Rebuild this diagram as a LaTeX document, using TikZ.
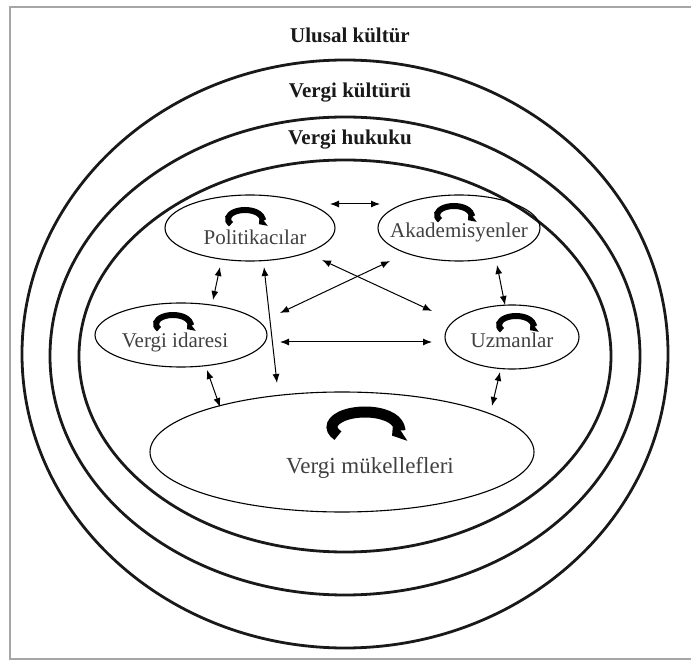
\documentclass[tikz,border=0pt]{standalone}
\usepackage{fontspec}
\setmainfont{Liberation Serif}
\usetikzlibrary{shapes.geometric,arrows.meta}

\begin{document}
\begin{tikzpicture}[x=1pt,y=1pt]
	\tikzset{>={Latex[length=9pt,width=7pt]}}
	\tikzset{ring/.style={line width=2.8pt, black!90},
		actor/.style={draw, ellipse, line width=1.1pt, inner sep=0pt},
		ringtext/.style={anchor=base, font=\fontsize{21}{24}\selectfont\bfseries, text=black!90},
		actortext/.style={anchor=base, font=\fontsize{21}{24}\selectfont, text=black!75},
		turn/.style={line width=6pt, -{Triangle[length=6pt,width=13pt]}},
		link/.style={<->, line width=1pt}}
	\useasboundingbox (0,0) rectangle (691,662);
	\draw[gray!70, line width=1.5pt] (691,655) -- (10,655) -- (10,3) -- (691,3);
	
	% rings
	\draw[ring] (345,308) ellipse [x radius=323, y radius=294];
	\draw[ring] (345,306) ellipse [x radius=295, y radius=239];
	\draw[ring] (345,306) ellipse [x radius=266, y radius=196];
	
	\node[ringtext] (ulusal) at (350,619) {Ulusal kültür};
	\node[ringtext] (kultur) at (350,564) {Vergi kültürü};
	\node[ringtext] (hukuk) at (350,517) {Vergi hukuku};
	
	% actors
	\node[actor, minimum width=170pt, minimum height=66pt] (pol) at (250,434) {};
	\node[actor, minimum width=162pt, minimum height=66pt] (akad) at (459,434) {};
	\node[actor, minimum width=172pt, minimum height=64pt] (idare) at (181,327) {};
	\node[actor, minimum width=134pt, minimum height=64pt] (uzman) at (512,325) {};
	\node[actor, minimum width=384pt, minimum height=120pt] (muk) at (342,210) {};
	
	\node[actortext] (pol-t) at (255,417) {Politikacılar};
	\node[actortext] (akad-t) at (459,424) {Akademisyenler};
	\node[actortext] (idare-t) at (175,314) {Vergi idaresi};
	\node[actortext] (uzman-t) at (512,314) {Uzmanlar};
	\node[actortext, font=\fontsize{23}{26}\selectfont] (muk-t) at (370,189) {Vergi mükellefleri};
	
	\foreach \x/\y in {245/443,454/447,173/338,516/337}
	\draw[turn] ([shift={(215:17 and 9)}]\x,\y) arc[start angle=215, end angle=-35, x radius=17, y radius=9];
	\draw[turn, line width=11pt, -{Triangle[length=10pt,width=25pt]}] ([shift={(215:33 and 15)}]365,235) arc[start angle=215, end angle=-35, x radius=33, y radius=15];
	
	% links
	\draw[link] ([shift={(80,24)}]pol.center) -- ([shift={(-79,24)}]akad.center);
	\draw[link] ([shift={(72,-32)}]pol.center) -- ([shift={(-80,26)}]uzman.center);
	\draw[link] ([shift={(-69,-33)}]akad.center) -- ([shift={(99,22)}]idare.center);
	\draw[link] ([shift={(99,-7)}]idare.center) -- ([shift={(-80,-5)}]uzman.center);
	\draw[link] ([shift={(14,-39)}]pol.center) -- ([shift={(-65,69)}]muk.center);
	\draw[link] ([shift={(-30,-39)}]pol.center) -- ([shift={(32,35)}]idare.center);
	\draw[link] ([shift={(38,-37)}]akad.center) -- ([shift={(-7,32)}]uzman.center);
	\draw[link] ([shift={(26,-35)}]idare.center) -- ([shift={(-122,45)}]muk.center);
	\draw[link] ([shift={(-12,-35)}]uzman.center) -- ([shift={(150,46)}]muk.center);
	
\end{tikzpicture}
\end{document}
